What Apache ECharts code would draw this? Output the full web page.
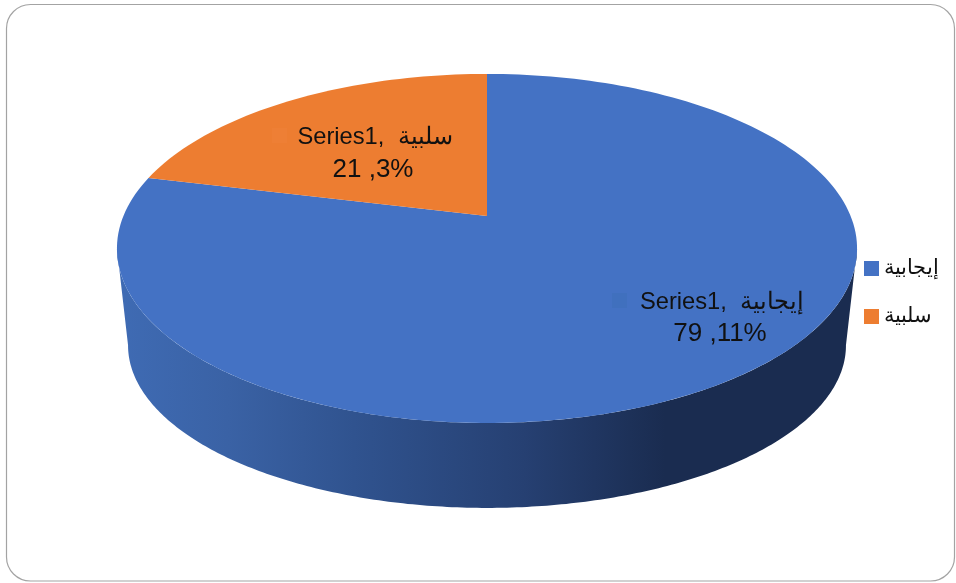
<!DOCTYPE html>
<html><head><meta charset="utf-8">
<style>html,body{margin:0;padding:0;background:#fff}#c{width:956px;height:583px}</style>
<script src="https://cdn.jsdelivr.net/npm/echarts@6/dist/echarts.min.js"></script>
</head><body><div id="c"></div>
<script>
const categories = ['إيجابية', 'سلبية'];
const values = [79.11, 21.3];
const valueLabels = ['79 ,11%', '21 ,3%'];
const seriesLabel = 'Series1';
const colors = ['#4472C4', '#ED7D31'];
const keyTints = ['#4070BE', '#EE7F35'];

// perspective disc layout
const P = {cx: 487, apexY: 216, A: 363.6, a: 128.3, k: -0.186, xs: 0.97, ys: 0.931, cy: 248, cy2: 345};
const total = values.reduce((s, v) => s + v, 0);
function proj(t) { // t: fraction of the turn, clockwise from the back of the disc
  const th = t * 2 * Math.PI, u = Math.sin(th), v = -Math.cos(th), d = 1 + P.k * v;
  return [P.cx + P.A * u / d, (P.a * v + P.apexY) / d];
}
function lower(p) {
  return [P.cx + (p[0] - P.cx) * P.xs, P.cy2 + (p[1] - P.cy) * P.ys];
}
const labelLayout = [
  {x1: 722, y1: 302, x2: 720, y2: 334, kx: 612, ky: 293},
  {x1: 375, y1: 137, x2: 373, y2: 170, kx: 272, ky: 128}
];
function poly(points, style) { return {type: 'polygon', shape: {points}, style}; }

function makeRender(idx) {
  return function (params, api) {
    const val = api.value(0);
    const start = values.slice(0, idx).reduce((s, v) => s + v, 0) / total;
    const end = start + val / total;
    const children = [];
    const N = 240;
    if (idx === 0) {
      // front wall: between the disc's right and left extremes
      const t0 = 0.2795, t1 = 0.7205;
      const top = [], bot = [];
      for (let i = 0; i <= N; i++) {
        const t = t0 + (t1 - t0) * i / N;
        top.push(proj(t)); bot.push(lower(proj(t)));
      }
      children.push(poly(top.concat(bot.reverse()), {
        fill: new echarts.graphic.LinearGradient(0, 0, 1, 0, [
          {offset: 0, color: '#3F6BB4'},
          {offset: 0.15, color: '#3A62A5'},
          {offset: 0.32, color: '#30538F'},
          {offset: 0.55, color: '#264072'},
          {offset: 0.74, color: '#1A2C50'},
          {offset: 1, color: '#1A2C50'}
        ])
      }));
    }
    const pts = [[P.cx, P.apexY]];
    const steps = Math.ceil(N * (end - start));
    for (let i = 0; i <= steps; i++) pts.push(proj(start + (end - start) * i / steps));
    children.push(poly(pts, {fill: colors[idx]}));
    const L = labelLayout[idx];
    children.push({type: 'rect', shape: {x: L.kx, y: L.ky, width: 15, height: 15}, style: {fill: keyTints[idx]}});
    children.push({type: 'text', style: {
      text: seriesLabel + ',  ' + categories[idx], x: L.x1, y: L.y1, align: 'center', verticalAlign: 'middle',
      font: '23.7px "Liberation Sans", Arial, sans-serif', fill: '#111'}});
    children.push({type: 'text', style: {
      text: valueLabels[idx], x: L.x2, y: L.y2, align: 'center', verticalAlign: 'middle',
      font: '26px "Liberation Sans", Arial, sans-serif', fill: '#111'}});
    return {type: 'group', children};
  };
}

const chart = echarts.init(document.getElementById('c'), null, {renderer: 'canvas'});
chart.setOption({
  animation: false,
  backgroundColor: '#fff',
  graphic: [{type: 'rect', shape: {x: 6.5, y: 4.5, width: 948, height: 576.5, r: 24},
    style: {fill: 'none', stroke: '#A3A3A3', lineWidth: 1.2}, silent: true, z: -1}],
  legend: {
    data: categories, orient: 'vertical', left: 859, top: 253, icon: 'rect',
    itemWidth: 15, itemHeight: 15, itemGap: 27,
    textStyle: {fontSize: 21, color: '#111', fontFamily: '"Liberation Sans", Arial, sans-serif'}
  },
  series: categories.map((name, i) => ({
    type: 'custom', name, coordinateSystem: 'none', silent: true,
    itemStyle: {color: colors[i]},
    data: [[values[i]]],
    renderItem: makeRender(i)
  }))
});
</script></body></html>
